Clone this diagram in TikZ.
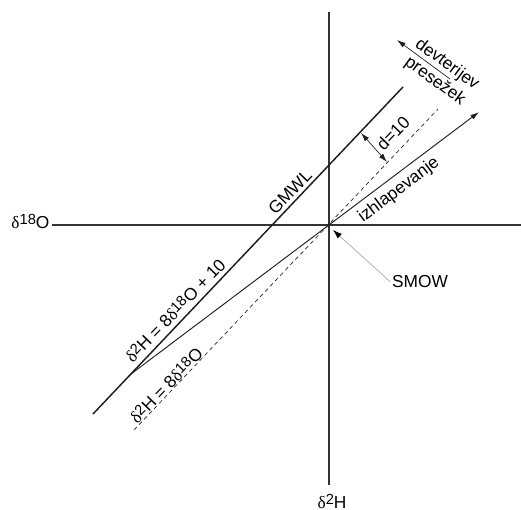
\documentclass[tikz,border=0pt]{standalone}
\usepackage{fontspec}
\setmainfont{Liberation Sans}
\newfontfamily\grkfont{Liberation Serif}
\usetikzlibrary{arrows.meta}
\definecolor{achse}{HTML}{333333}
\definecolor{linie}{HTML}{1E1E1E}
\definecolor{hgrau}{HTML}{A8A8A8}
\newcommand{\dlt}{{\grkfont δ}}
\newcommand{\hoch}[1]{\raisebox{0.38ex}{\fontsize{11}{12}\selectfont #1}}
\tikzset{
  achs/.style={achse,line width=1.1pt},
  gmwl/.style={linie,line width=1.1pt},
  verd/.style={-{Latex[length=2.3mm,width=1.4mm]},linie,line width=0.7pt},
  hilf/.style={linie,dash pattern=on 3pt off 2.5pt,line width=0.5pt},
  pfeil/.style={-{Latex[length=2.3mm,width=1.4mm]},linie,line width=0.5pt},
  dpfeil/.style={{Latex[length=2.3mm,width=1.4mm]}-{Latex[length=2.3mm,width=1.4mm]},linie,line width=0.5pt},
  smowl/.style={-{Latex[length=2.4mm,width=1.6mm,color=black]},hgrau,line width=0.5pt},
  txt/.style={font=\fontsize{13}{15.5}\selectfont,inner sep=1pt},
}
\begin{document}
\begin{tikzpicture}[x=0.75pt,y=-0.75pt]
  \useasboundingbox (0,0) rectangle (521,510);
  \coordinate (O) at (329,225);
  % axes
  \node[txt,anchor=base east] (lO) at (51,228) {\dlt\hoch{18}O};
  \node[txt,anchor=base] (lH) at (332,508) {\dlt\hoch{2}H};
  \draw[achs] (52,225) -- (521,225);
  \draw[achs] (329,12) -- (329,485);
  % lines
  \coordinate (g1) at (93,414);
  \coordinate (g2) at (403,87);
  \draw[gmwl] (g1) -- (g2);
  \coordinate (e1) at (131,374);
  \coordinate (e2) at (479,112);
  \draw[verd] (e1) -- (e2);
  \coordinate (s1) at (134,430);
  \coordinate (s2) at (438,109);
  \draw[hilf] (s1) -- (s2);
  % d-excess
  \coordinate (d1) at (361,133);
  \coordinate (d2) at (387,162);
  \draw[dpfeil] (d1) -- (d2);
  \coordinate (p1) at (450,79);
  \coordinate (p2) at (397,40);
  \draw[pfeil] (p1) -- (p2);
  % labels
  \node[txt,rotate=46] (lg) at (290,192) {GMWL};
  \node[txt,rotate=46] (lgl) at (175,310) {\dlt\hoch{2}H = 8\dlt\hoch{18}O + 10};
  \node[txt,rotate=46] (lsl) at (166,385) {\dlt\hoch{2}H = 8\dlt\hoch{18}O};
  \node[txt,rotate=46] (ld) at (393,133) {d=10};
  \node[txt,rotate=37] (le) at (399,190) {izhlapevanje};
  \node[txt,rotate=-36,align=center] (lp) at (441,73) {devterijev\\presežek};
  \node[txt] (smow) at (420,282) {SMOW};
  \draw[smowl] (smow.west) -- (333,230);
\end{tikzpicture}
\end{document}
